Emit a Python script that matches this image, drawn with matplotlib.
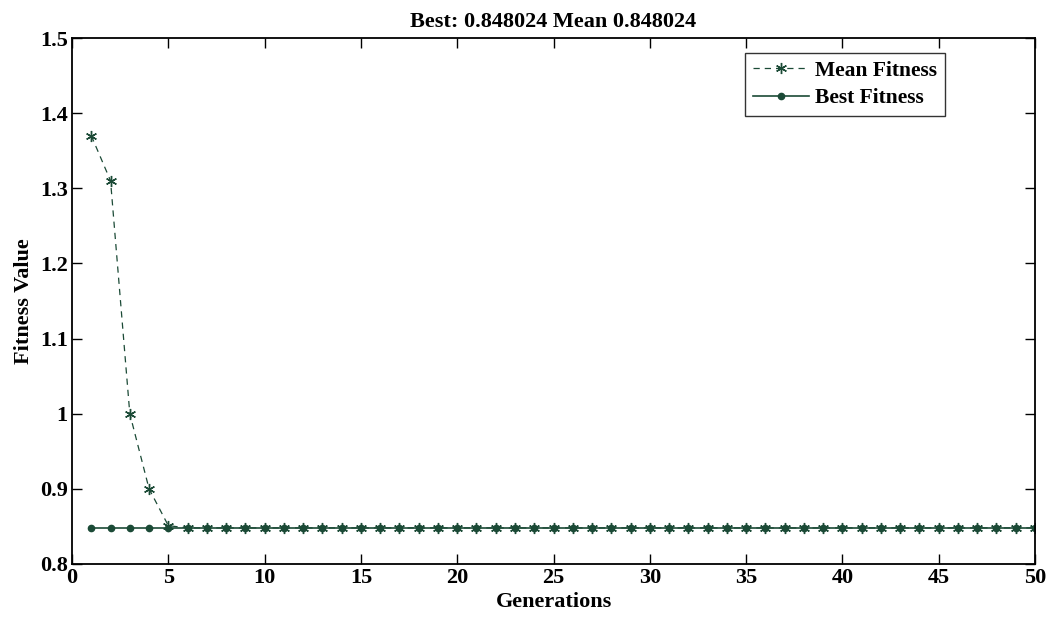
import matplotlib
matplotlib.use("Agg")
import matplotlib.pyplot as plt
import numpy as np

plt.rcParams['font.family'] = ['Liberation Serif', 'DejaVu Serif']
plt.rcParams['font.weight'] = 'bold'

generations = np.arange(1, 51)
mean_head = [1.37, 1.31, 1.0, 0.9, 0.851]
mean_fitness = mean_head + [0.848024] * (50 - len(mean_head))
best_fitness = [0.848024] * 50

col = '#1b4a36'

fig = plt.figure(figsize=(10.5, 6.21), dpi=100)
ax = fig.add_axes([0.0686, 0.0918, 0.9171, 0.847])

ax.plot(generations, mean_fitness, linestyle='--', dashes=(5, 4), color=col,
        marker=(6, 2, 0), markersize=8, markeredgewidth=1.0, linewidth=0.9,
        label='Mean Fitness')
ax.plot(generations, best_fitness, linestyle='-', color=col, marker='o',
        markersize=4.5, linewidth=1.2, label='Best Fitness')

ax.set_xlim(0, 50)
ax.set_ylim(0.8, 1.5)
ax.set_xticks(np.arange(0, 51, 5))
ax.set_yticks([0.8, 0.9, 1.0, 1.1, 1.2, 1.3, 1.4, 1.5])
ax.set_yticklabels(['0.8', '0.9', '1', '1.1', '1.2', '1.3', '1.4', '1.5'])
ax.tick_params(direction='in', top=True, right=True, length=7, width=1,
               labelsize=16, pad=3)
for lab in ax.get_xticklabels() + ax.get_yticklabels():
    lab.set_fontweight('bold')
for s in ax.spines.values():
    s.set_linewidth(1.3)

ax.set_xlabel('Generations', fontsize=16, fontweight='bold', labelpad=3)
ax.set_ylabel('Fitness Value', fontsize=16, fontweight='bold', labelpad=4)
ax.set_title('Best: 0.848024 Mean 0.848024', fontsize=16, fontweight='bold', pad=8)

leg = ax.legend(loc='upper right', bbox_to_anchor=(0.9065, 0.971),
                prop={'size': 15.5, 'weight': 'bold'},
                frameon=True, fancybox=False, edgecolor='black',
                handlelength=2.6, borderpad=0.35, labelspacing=0.35,
                handletextpad=0.3, borderaxespad=0)
leg.get_frame().set_linewidth(1.0)

fig.savefig('out.png', dpi=100)
